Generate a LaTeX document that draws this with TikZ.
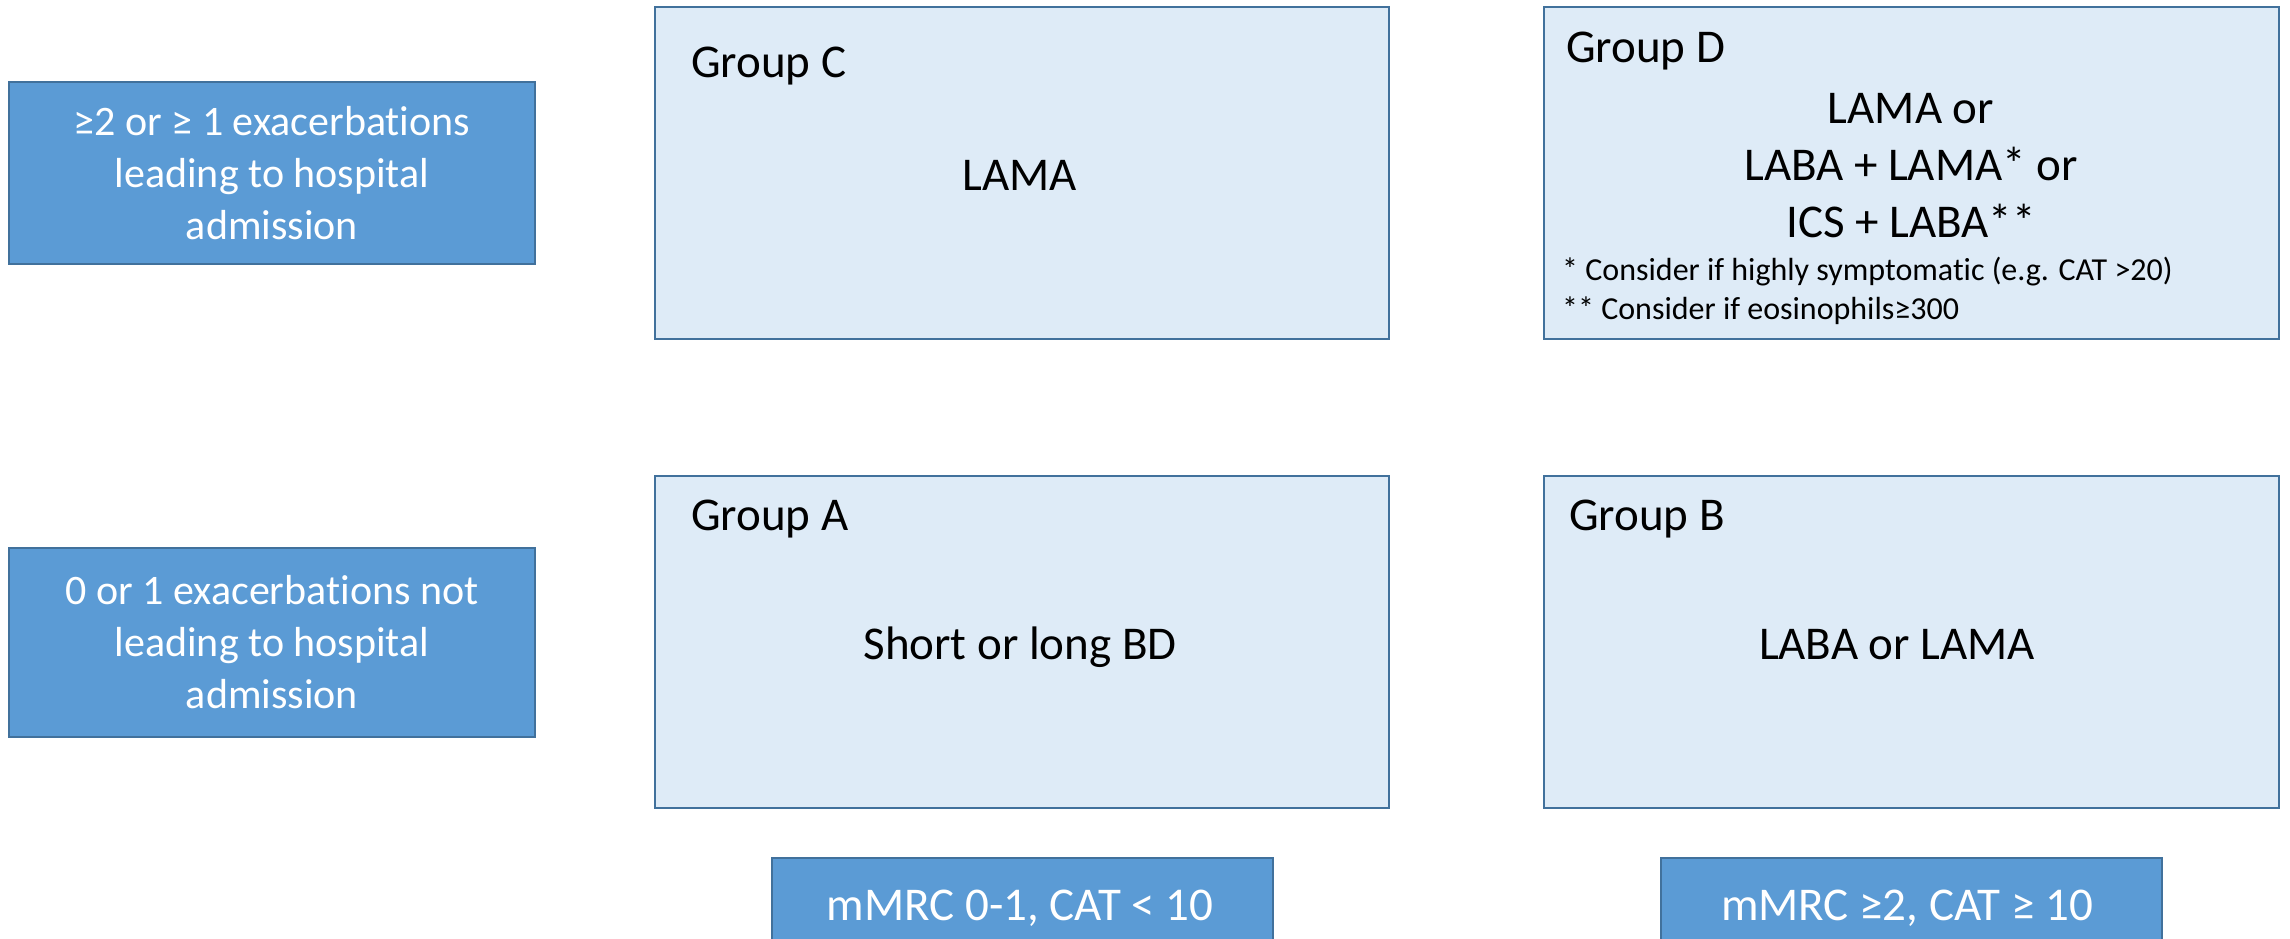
\documentclass[tikz,border=0pt]{standalone}
\usepackage{fontspec}
% plain letter pairs: no "ti"/"fi" ligatures
\setmainfont{Carlito}[Ligatures=NoCommon]
\definecolor{critfill}{HTML}{5B9BD5}
\definecolor{critline}{HTML}{41719C}
\definecolor{grpfill}{HTML}{DEEBF7}
\definecolor{grpline}{HTML}{41719C}
\tikzset{
  critbox/.style={draw=critline, fill=critfill, line width=2.5pt, text=white,
    align=center, inner sep=0pt},
  grpbox/.style={draw=grpline, fill=grpfill, line width=2.5pt, inner sep=0pt,
    minimum width=734pt, minimum height=332pt},
  grplabel/.style={anchor=base west, inner sep=0pt, font=\fontsize{47}{57}\selectfont},
  grptext/.style={anchor=base, inner sep=0pt, font=\fontsize{47}{57}\selectfont},
  note/.style={anchor=base west, inner sep=0pt, font=\fontsize{32}{38}\selectfont},
  symtext/.style={anchor=base, inner sep=0pt, text=white, font=\fontsize{47}{56}\selectfont},
}
\begin{document}
\begin{tikzpicture}[x=1pt, y=-1pt]
\useasboundingbox (0,0) rectangle (2290,938);
\clip (0,0) rectangle (2290,938);

% exacerbation criteria (rows)
\node[critbox, minimum width=526pt, minimum height=182pt,
  font=\fontsize{42}{52}\selectfont] (exhigh) at (272,173)
  {≥2 or ≥ 1 exacerbations\\leading to hospital\\admission};
\node[critbox, minimum width=526pt, minimum height=189pt,
  font=\fontsize{42}{52}\selectfont] (exlow) at (272,642.5)
  {0 or 1 exacerbations not\\leading to hospital\\admission};

% symptom criteria (columns)
\node[critbox, minimum width=501pt, minimum height=110pt] (symlow) at (1022.5,913) {};
\node[critbox, minimum width=501pt, minimum height=110pt] (symhigh) at (1911.5,913) {};
\node[symtext] (symlowtxt) at (1020,920) {mMRC 0-1, CAT < 10};
\node[symtext] (symhightxt) at (1907,920) {mMRC ≥2, CAT ≥ 10};

% patient groups
\node[grpbox] (gC) at (1022,173) {};
\node[grpbox, minimum width=735pt] (gD) at (1911.5,173) {};
\node[grpbox] (gA) at (1022,642) {};
\node[grpbox, minimum width=735pt] (gB) at (1911.5,642) {};

\node[grplabel] (gClab) at (691,77) {Group C};
\node[grptext] (gCtxt) at (1020,190) {LAMA};

\node[grplabel] (gDlab) at (1566,62) {Group D};
\node[grptext] (gDl1) at (1911,123) {LAMA or};
\node[grptext] (gDl2) at (1911,180) {LABA + LAMA* or};
\node[grptext] (gDl3) at (1911,237) {ICS + LABA**};
\node[note] (gDn1) at (1562,280) {* Consider if highly symptomatic (e.g. CAT >20)};
\node[note] (gDn2) at (1562,319) {** Consider if eosinophils≥300};

\node[grplabel] (gAlab) at (691,530) {Group A};
\node[grptext] (gAtxt) at (1020,659) {Short or long BD};

\node[grplabel] (gBlab) at (1569,530) {Group B};
\node[grptext] (gBtxt) at (1897,659) {LABA or LAMA};
\end{tikzpicture}
\end{document}
